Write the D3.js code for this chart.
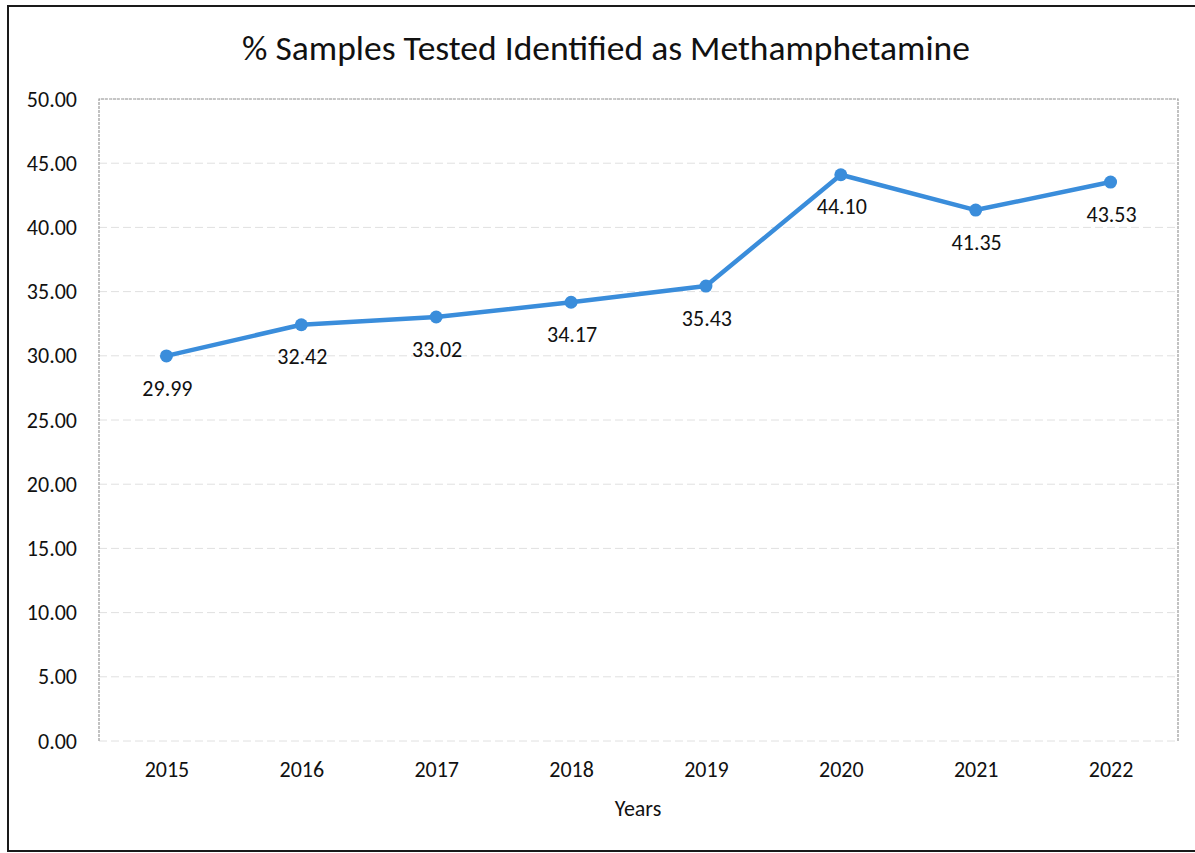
<!DOCTYPE html>
<html>
<head>
<meta charset="utf-8">
<script src="https://cdn.jsdelivr.net/npm/d3@7"></script>
<style>
  body { margin: 0; background: #fff; }
  text { font-family: Carlito, "Open Sans", "Noto Sans", sans-serif; fill: #111; }
</style>
</head>
<body>
<div id="chart"></div>
<script>
// data
var years = ["2015", "2016", "2017", "2018", "2019", "2020", "2021", "2022"];
var values = [29.99, 32.42, 33.02, 34.17, 35.43, 44.10, 41.35, 43.53];
var yTicks = [0, 5, 10, 15, 20, 25, 30, 35, 40, 45, 50];

var width = 1195,
  height = 853;
var margin = { top: 99, right: 17, bottom: 112, left: 99 };
var innerW = width - margin.left - margin.right,
  innerH = height - margin.top - margin.bottom;

var svg = d3.select("#chart")
  .append("svg")
  .attr("width", width)
  .attr("height", height);

// outer frame (scanned page border)
svg.append("rect")
  .attr("x", 8)
  .attr("y", 6)
  .attr("width", 1200)
  .attr("height", 845)
  .attr("fill", "none")
  .attr("stroke", "#1a1a1a")
  .attr("stroke-width", 2);

var g = svg.append("g")
  .attr("transform", "translate(" + margin.left + "," + margin.top + ")");

var x = d3.scalePoint()
  .domain(years)
  .range([0, innerW])
  .padding(0.5);

var y = d3.scaleLinear()
  .domain([0, 50])
  .range([innerH, 0]);

// gridlines
g.append("g")
  .selectAll("line")
  .data(yTicks)
  .enter().append("line")
  .attr("x1", 0)
  .attr("x2", innerW)
  .attr("y1", function(d) { return y(d); })
  .attr("y2", function(d) { return y(d); })
  .attr("stroke", "#e0e0e0")
  .attr("stroke-width", 1)
  .attr("stroke-dasharray", "8,4");

// plot area border
g.append("path")
  .attr("d", "M0," + innerH + "V0H" + innerW + "V" + innerH)
  .attr("fill", "none")
  .attr("stroke", "#9a9a9a")
  .attr("stroke-width", 1.2)
  .attr("stroke-dasharray", "3,1");

// y axis
var yAxis = g.append("g")
  .call(d3.axisLeft(y).tickValues(yTicks).tickFormat(d3.format(".2f")).tickSize(0).tickPadding(22));
yAxis.select(".domain").remove();
yAxis.selectAll("text")
  .attr("font-size", 22)
  .style("font-family", null);

// x axis
var xAxis = g.append("g")
  .attr("transform", "translate(0," + innerH + ")")
  .call(d3.axisBottom(x).tickSize(0).tickPadding(20));
xAxis.select(".domain").remove();
xAxis.selectAll("text")
  .attr("font-size", 22)
  .style("font-family", null);

// line
var line = d3.line()
  .x(function(d, i) { return x(years[i]); })
  .y(function(d) { return y(d); });

g.append("path")
  .datum(values)
  .attr("d", line)
  .attr("fill", "none")
  .attr("stroke", "#3a8ddb")
  .attr("stroke-width", 4.5)
  .attr("stroke-linejoin", "round");

g.selectAll(".dot")
  .data(values)
  .enter().append("circle")
  .attr("class", "dot")
  .attr("cx", function(d, i) { return x(years[i]); })
  .attr("cy", function(d) { return y(d); })
  .attr("r", 6.5)
  .attr("fill", "#3a8ddb");

// data labels below each point
g.selectAll(".lbl")
  .data(values)
  .enter().append("text")
  .attr("class", "lbl")
  .attr("x", function(d, i) { return x(years[i]) + 1; })
  .attr("y", function(d) { return y(d) + 32; })
  .attr("dy", "0.35em")
  .attr("text-anchor", "middle")
  .attr("font-size", 22)
  .text(function(d) { return d3.format(".2f")(d); });

// title
svg.append("text")
  .attr("x", 606)
  .attr("y", 48)
  .attr("dy", "0.35em")
  .attr("text-anchor", "middle")
  .attr("font-size", 35.5)
  .text("% Samples Tested Identified as Methamphetamine");

// x axis title
svg.append("text")
  .attr("x", 638)
  .attr("y", 808)
  .attr("dy", "0.35em")
  .attr("text-anchor", "middle")
  .attr("font-size", 22)
  .text("Years");
</script>
</body>
</html>
